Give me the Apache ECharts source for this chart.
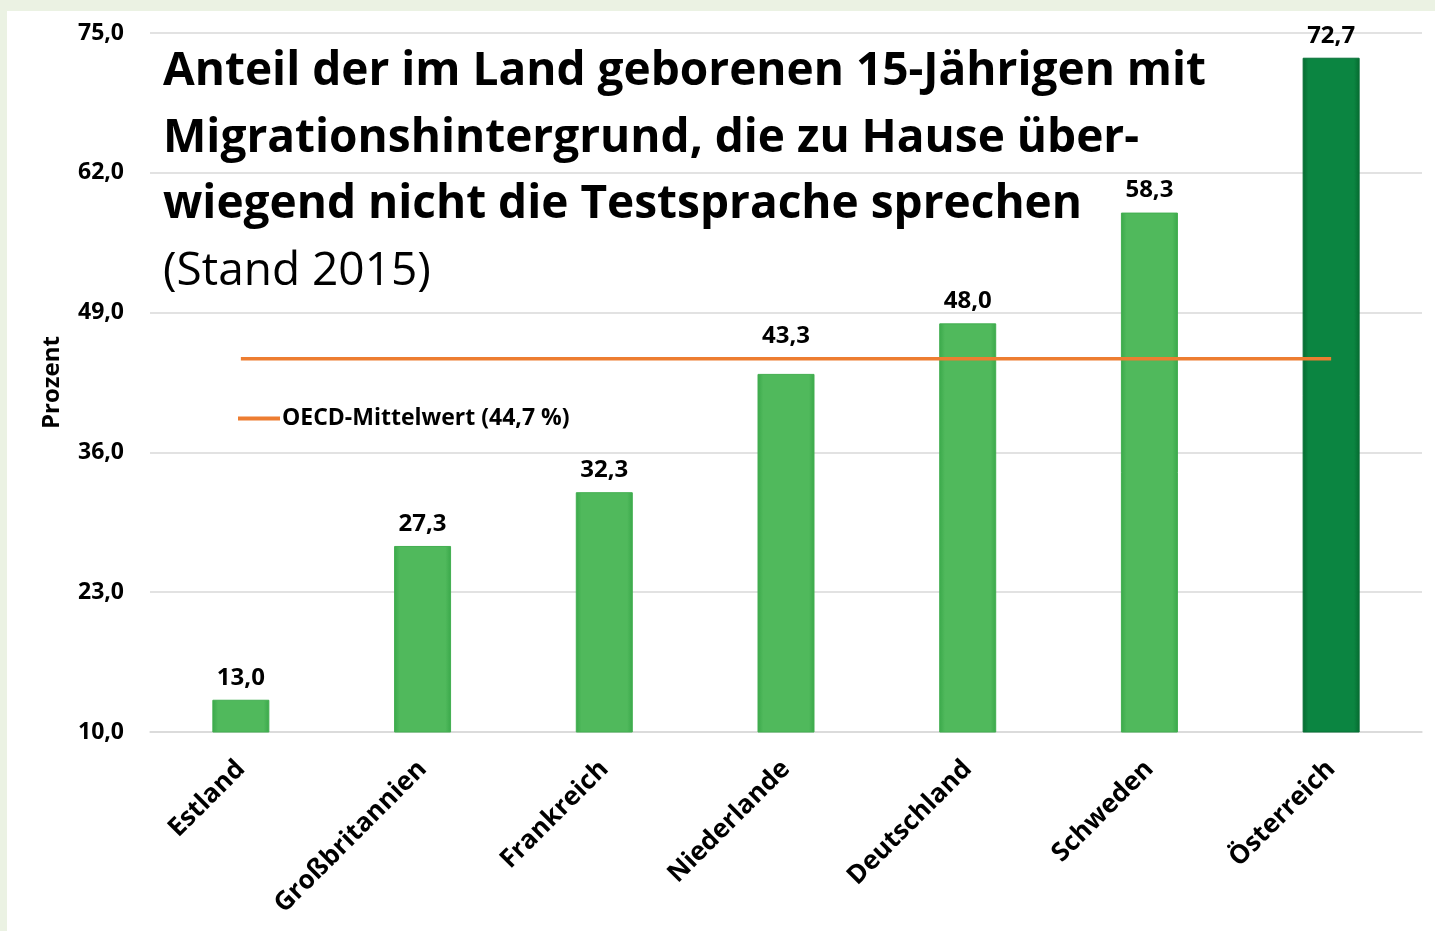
<!DOCTYPE html>
<html>
<head>
<meta charset="utf-8">
<script src="https://cdn.jsdelivr.net/npm/echarts@6/dist/echarts.min.js"></script>
<style>
  html, body { margin: 0; padding: 0; background: #ebf2e3; }
  #chart { width: 1435px; height: 931px; }
</style>
</head>
<body>
<div id="chart"></div>
<script>
const countries = ['Estland', 'Großbritannien', 'Frankreich', 'Niederlande', 'Deutschland', 'Schweden', 'Österreich']
const shares = [13.0, 27.3, 32.3, 43.3, 48.0, 58.3, 72.7]
const oecdMean = [44.7, 44.7, 44.7, 44.7, 44.7, 44.7, 44.7]
const yTicks = { min: 10, max: 75, step: 13 }

const FONT = '"Open Sans"'
const fmt = (v) => Number(v).toFixed(1).replace('.', ',')

const bevel = (light, dark) => ({
  type: 'linear', x: 0, y: 0, x2: 1, y2: 0,
  colorStops: [
    { offset: 0, color: dark },
    { offset: 0.1, color: light },
    { offset: 0.9, color: light },
    { offset: 1, color: dark },
  ],
})

const chart = echarts.init(document.getElementById('chart'))

const option = {
  backgroundColor: '#ebf2e3',
  textStyle: { fontFamily: FONT },
  graphic: [
    {
      type: 'rect',
      z: -10,
      shape: { x: 7, y: 11, width: 1435, height: 931 },
      style: { fill: '#ffffff' },
    },
  ],
  title: {
    left: 158,
    top: 34,
    text: '{b|Anteil der im Land geborenen 15-Jährigen mit}\n{b|Migrationshintergrund, die zu Hause über-}\n{b|wiegend nicht die Testsprache sprechen}\n{n|(Stand 2015)}',
    textStyle: {
      rich: {
        b: { fontFamily: FONT, fontSize: 46, fontWeight: 'bold', color: '#000', lineHeight: 66.5 },
        n: { fontFamily: FONT, fontSize: 46, fontWeight: 'normal', color: '#000', lineHeight: 66.5 },
      },
    },
  },
  legend: {
    left: 233,
    top: 402,
    icon: 'rect',
    itemWidth: 42,
    itemHeight: 4,
    itemGap: 4,
    textStyle: { fontFamily: FONT, fontSize: 23, fontWeight: 'bold', color: '#000', padding: [0, 0, 0, -3] },
    data: ['OECD-Mittelwert (44,7 %)'],
  },
  grid: { left: 150, right: 13, top: 33, bottom: 199, containLabel: false },
  xAxis: {
    type: 'category',
    data: countries,
    axisLine: { lineStyle: { color: '#d9d9d9', width: 1.5 } },
    axisTick: { show: false },
    axisLabel: {
      rotate: 45,
      margin: 33,
      interval: 0,
      color: '#000',
      fontFamily: FONT,
      fontSize: 26,
      fontWeight: 'bold',
    },
  },
  yAxis: {
    type: 'value',
    min: yTicks.min,
    max: yTicks.max,
    interval: yTicks.step,
    name: 'Prozent',
    nameLocation: 'middle',
    nameGap: 86,
    nameTextStyle: { fontFamily: FONT, fontSize: 24, fontWeight: 'bold', color: '#000' },
    axisLine: { show: false },
    axisTick: { show: false },
    splitLine: { lineStyle: { color: '#d9d9d9', width: 1.5 } },
    axisLabel: {
      margin: 26,
      color: '#000',
      fontFamily: FONT,
      fontSize: 23,
      fontWeight: 'bold',
      formatter: fmt,
    },
  },
  series: [
    {
      name: 'Anteil',
      type: 'bar',
      barWidth: 57,
      data: shares.map((v, i) => ({
        value: v,
        // Excel nudged the Niederlande label above the OECD line
        label: i === 3 ? { distance: 26 } : undefined,
        itemStyle: i === shares.length - 1
          ? { color: bevel('#0b8541', '#066a30'), borderColor: '#077036', borderWidth: 1 }
          : { color: bevel('#50b95c', '#3aa84a'), borderColor: '#42ae50', borderWidth: 1 },
      })),
      label: {
        show: true,
        position: 'top',
        distance: 10,
        color: '#000',
        fontFamily: FONT,
        fontSize: 24,
        fontWeight: 'bold',
        formatter: (p) => fmt(p.value),
      },
      z: 2,
    },
    {
      name: 'OECD-Mittelwert (44,7 %)',
      type: 'line',
      data: oecdMean,
      symbol: 'none',
      itemStyle: { color: '#ed7d31' },
      lineStyle: { color: '#ed7d31', width: 3.5 },
      z: 3,
    },
  ],
}

chart.setOption(option)
</script>
</body>
</html>
